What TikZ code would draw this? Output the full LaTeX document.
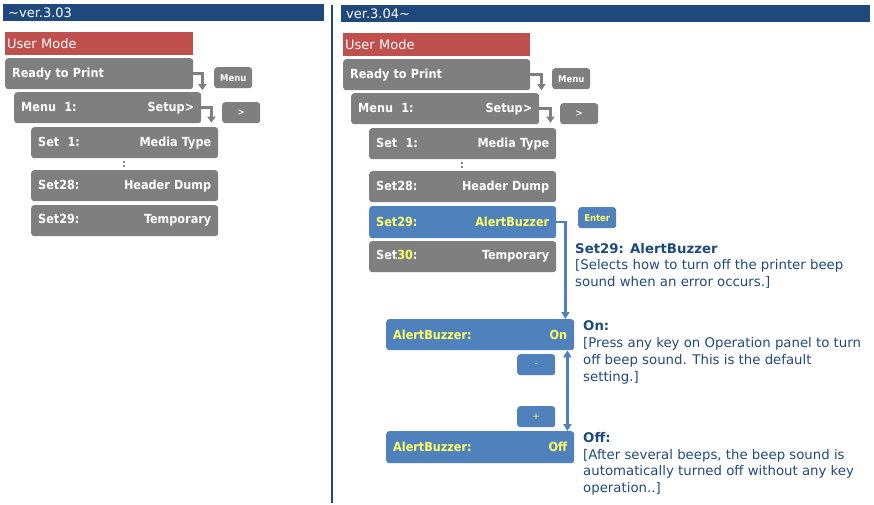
\documentclass[tikz,border=0pt]{standalone}
\usepackage{fontspec}
\setmainfont{DejaVu Sans}
\newfontfamily\boxfont{DejaVu Sans Condensed}
\usetikzlibrary{arrows.meta}
\definecolor{gbox}{HTML}{7F7F7F}
\definecolor{bbox}{HTML}{4F81BD}
\definecolor{rbox}{HTML}{C0504D}
\definecolor{navy}{HTML}{1F497D}
\definecolor{ylw}{HTML}{FFFF66}
\definecolor{dtext}{HTML}{1F497D}
\begin{document}
\begin{tikzpicture}[x=1pt,y=-1pt,
  rowbox/.style={rounded corners=3pt, fill=gbox, text=white, anchor=north west,
    inner xsep=7pt, inner ysep=0pt, font=\boxfont\bfseries\fontsize{12.5}{14}\selectfont,
    minimum height=31pt, text width=173pt},
  bluerow/.style={rowbox, fill=bbox, text=ylw},
  umbox/.style={fill=rbox, text=white, anchor=north west, inner xsep=2pt, inner ysep=0pt,
    minimum height=23pt, text width=184pt, font=\fontsize{13}{15}\selectfont},
  hdr/.style={fill=navy, text=white, anchor=north west, inner xsep=5pt, inner ysep=0pt,
    minimum height=17pt, font=\fontsize{13}{15}\selectfont},
  btn/.style={rounded corners=3pt, fill=gbox, text=white, anchor=north west, inner sep=0pt,
    minimum width=38pt, minimum height=21pt, font=\boxfont\bfseries\fontsize{9.4}{11}\selectfont},
  bluebtn/.style={btn, fill=bbox, text=ylw},
  dots/.style={text=gbox, font=\bfseries\fontsize{11}{13}\selectfont, inner sep=0pt},
  garrow/.style={draw=gbox, line width=2.4pt, -{Triangle[width=8pt,length=6pt]}},
  barrow/.style={draw=bbox, line width=2.4pt, -{Triangle[width=8pt,length=7pt]}},
  dbarrow/.style={draw=bbox, line width=2.4pt, {Triangle[width=8pt,length=7pt]}-{Triangle[width=8pt,length=7pt]}},
  desc/.style={text=dtext, anchor=base west, align=left, inner sep=0pt,
    font=\fontsize{13.3}{16.7}\selectfont}
]
\useasboundingbox (0,0) rectangle (874,505);

% ---- left panel ----
\node[hdr, text width=311pt] (hdrL) at (3,4) {\textasciitilde ver.3.03};
\node[umbox] (umL) at (5,32) {User Mode};
\node[rowbox, text width=174pt] (rpL) at (5,58) {Ready to Print};
\node[rowbox] (m1L) at (14,92) {Menu\ \ 1:\hfill Setup>};
\node[rowbox] (s1L) at (31,127) {Set\ \ 1:\hfill Media Type};
\node[dots] (dotsL) at (124,164) {:};
\node[rowbox] (s28L) at (31,170) {Set28:\hfill Header Dump};
\node[rowbox] (s29L) at (31,205) {Set29:\hfill Temporary};
\node[btn] (menuL) at (214,67) {Menu};
\node[btn] (gtL) at (222,102) {>};
\draw[garrow] (rpL.east) -- ++(9,0) -- ++(0,16.5);
\draw[garrow] (m1L.east) -- ++(10,0) -- ++(0,15);

% divider
\coordinate (divtop) at (332,5);
\coordinate (divbot) at (332,503);
\draw[navy, line width=1.3pt] (divtop) -- (divbot);

% ---- right panel ----
\node[hdr, text width=519pt] (hdrR) at (341,5) {ver.3.04\textasciitilde};
\node[umbox, text width=183pt] (umR) at (343,33) {User Mode};
\node[rowbox] (rpR) at (343,59) {Ready to Print};
\node[rowbox, text width=174pt] (m1R) at (351,93) {Menu\ \ 1:\hfill Setup>};
\node[rowbox] (s1R) at (369,128) {Set\ \ 1:\hfill Media Type};
\node[dots] (dotsR) at (462,165) {:};
\node[rowbox] (s28R) at (369,171) {Set28:\hfill Header Dump};
\node[bluerow, minimum height=32pt] (s29R) at (369,206) {Set29:\hfill AlertBuzzer};
\node[rowbox] (s30R) at (369,241) {Set\textcolor{ylw}{30}:\hfill Temporary};
\node[btn] (menuR) at (552,68) {Menu};
\node[btn] (gtR) at (560,103) {>};
\node[bluebtn] (enter) at (578,207) {Enter};
\draw[garrow] (rpR.east) -- ++(11,0) -- ++(0,15.5);
\draw[garrow] (m1R.east) -- ++(11,0) -- ++(0,14);

\node[bluerow, text width=174pt] (onB) at (386,319) {AlertBuzzer:\hfill On};
\node[bluerow, text width=174pt, minimum height=32pt] (offB) at (386,431) {AlertBuzzer:\hfill Off};
\node[bluebtn, font=\fontsize{9}{10}\selectfont] (minus) at (517,354) {-};
\node[bluebtn, font=\fontsize{9}{10}\selectfont] (plus) at (517,406) {+};

\draw[barrow] (s29R.east) -| ([xshift=-9pt]onB.north east);
\draw[dbarrow] ([xshift=-7pt]onB.south east) -- ([xshift=-7pt]offB.north east);

\node[desc] (d29) at (575,286.4) {\textbf{Set29: AlertBuzzer}\\{}[Selects how to turn off the printer beep\\sound when an error occurs.]};
\node[desc] (dOn) at (583,381) {\textbf{On:}\\{}[Press any key on Operation panel to turn\\off beep sound. This is the default\\setting.]};
\node[desc] (dOff) at (583,492.5) {\textbf{Off:}\\{}[After several beeps, the beep sound is\\automatically turned off without any key\\operation..]};
\end{tikzpicture}
\end{document}
